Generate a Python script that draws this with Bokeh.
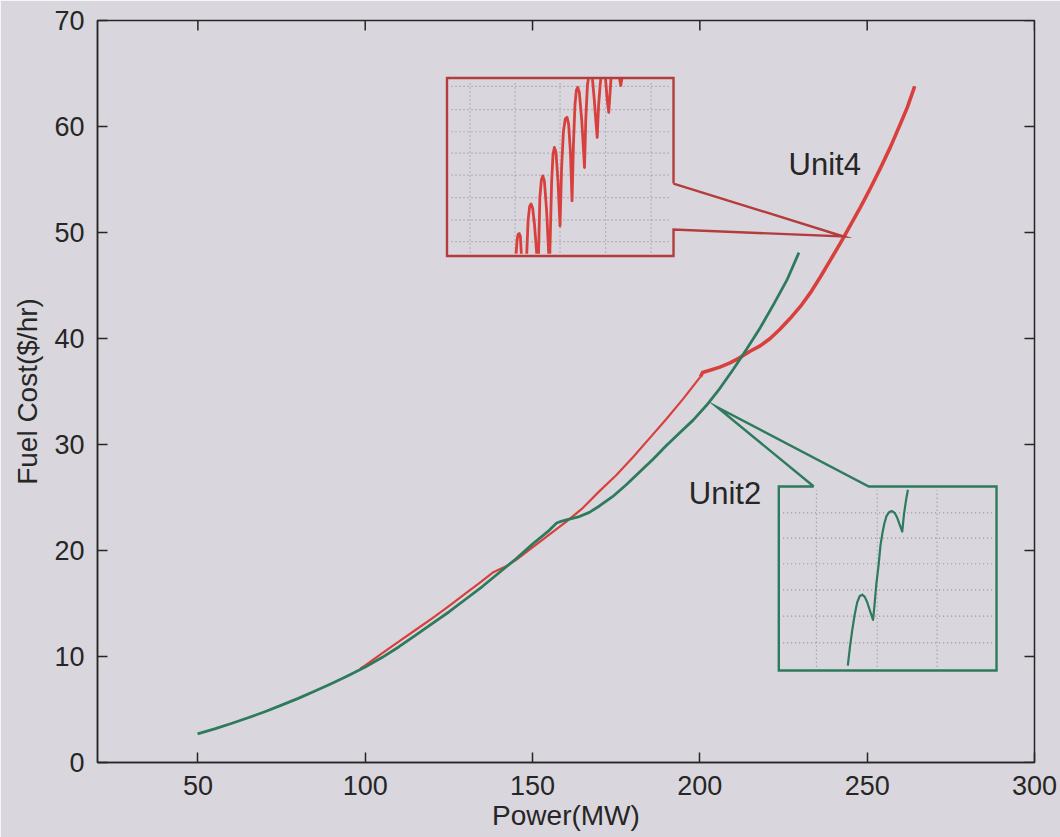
import math
from bokeh.plotting import figure
from bokeh.models import FixedTicker, Range1d
from bokeh.core.properties import value
from bokeh.embed import file_html
from bokeh.resources import INLINE

# ---------------- data ----------------
X_TICKS = [50, 100, 150, 200, 250, 300]
Y_TICKS = [0, 10, 20, 30, 40, 50, 60, 70]

unit2_p = [49.9, 55, 60, 65, 70, 75, 80, 85, 90, 95, 100, 105, 110, 115, 120, 125, 130,
           135, 140, 145, 150, 155, 157.2, 158.5, 161, 164, 167, 170, 174, 178, 182, 186,
           190, 194, 198, 202, 206, 210, 214, 218, 222, 226, 229.6]
unit2_c = [2.7, 3.17, 3.68, 4.22, 4.79, 5.41, 6.05, 6.74, 7.46, 8.21, 9.0, 9.9, 10.9,
           12.0, 13.1, 14.2, 15.4, 16.6, 17.9, 19.2, 20.6, 21.9, 22.6, 22.75, 22.95, 23.2,
           23.6, 24.2, 25.1, 26.2, 27.4, 28.6, 29.9, 31.1, 32.3, 33.7, 35.3, 37.1, 39.0,
           41.0, 43.2, 45.5, 48.1]

unit4_low_p = [98.5, 100, 105, 110, 115, 120, 125, 130, 134, 138.3, 140, 142, 145, 150,
               155, 160, 165, 170, 175, 180, 185, 190, 195, 200.2]
unit4_low_c = [8.85, 9.15, 10.3, 11.4, 12.5, 13.6, 14.75, 15.95, 16.9, 17.95, 18.2, 18.5,
               19.1, 20.3, 21.5, 22.7, 24.0, 25.6, 27.1, 28.8, 30.6, 32.4, 34.3, 36.4]
unit4_high_p = [200.2, 200.8, 203, 206, 209, 212, 215, 218, 221, 224, 227, 230, 233, 236,
                239, 242, 245, 248, 251, 254, 257, 260, 262, 264.2]
unit4_high_c = [36.4, 36.8, 37.0, 37.3, 37.7, 38.2, 38.8, 39.3, 40.0, 40.9, 41.9, 43.0,
                44.3, 45.8, 47.4, 49.0, 50.7, 52.4, 54.2, 56.1, 58.1, 60.3, 61.8, 63.8]

# inset (zoomed view) curves, in the inset's own normalised view units (0..1)
nan = float("nan")
inset4_u = [0.305, 0.310, 0.314, 0.319, 0.324, 0.328, nan,
            0.352, 0.358, 0.365, 0.371, 0.378, 0.386, 0.396, nan,
            0.404, 0.410, 0.417, 0.423, 0.430, 0.440, 0.449, nan,
            0.454, 0.462, 0.468, 0.474, 0.481, 0.490, 0.499, 0.506, 0.514, 0.522, 0.530,
            0.537, 0.545, 0.552, 0.558, 0.565, 0.571, 0.577, 0.584, 0.595, 0.607, 0.613,
            0.620, 0.624, nan,
            0.642, 0.650, 0.657, 0.663, 0.669, 0.676, 0.679, nan,
            0.700, 0.707, 0.714, 0.719, 0.724, nan,
            0.762, 0.767, 0.772]
inset4_v = [0.013, 0.095, 0.122, 0.126, 0.110, 0.013, nan,
            0.013, 0.200, 0.280, 0.293, 0.270, 0.180, 0.013, nan,
            0.013, 0.330, 0.430, 0.450, 0.420, 0.250, 0.013, nan,
            0.013, 0.420, 0.570, 0.610, 0.585, 0.420, 0.169, 0.500, 0.700, 0.770, 0.779,
            0.740, 0.580, 0.310, 0.620, 0.850, 0.930, 0.947, 0.920, 0.760, 0.497, 0.780,
            0.960, 0.995, nan,
            0.995, 0.880, 0.760, 0.666, 0.840, 0.960, 0.995, nan,
            0.995, 0.880, 0.807, 0.900, 0.995, nan,
            0.995, 0.957, 0.995]
inset4_grid_u = [0.102, 0.300, 0.499, 0.700, 0.901]
inset4_grid_v = [0.953, 0.822, 0.698, 0.578, 0.454, 0.328, 0.203, 0.081]

inset2_u = [0.317, 0.327, 0.337, 0.348, 0.360, 0.372, 0.383, 0.395, 0.406, 0.420, 0.433,
            0.440, 0.448, 0.459, 0.467, 0.475, 0.485, 0.495, 0.508, 0.521, 0.533, 0.544,
            0.556, 0.567, 0.575, 0.585, 0.593]
inset2_v = [0.027, 0.130, 0.217, 0.300, 0.370, 0.405, 0.412, 0.400, 0.371, 0.320, 0.275,
            0.360, 0.470, 0.580, 0.680, 0.740, 0.800, 0.840, 0.862, 0.866, 0.855, 0.830,
            0.790, 0.755, 0.850, 0.930, 0.982]
inset2_grid_u = [0.173, 0.452, 0.727]
inset2_grid_v = [0.857, 0.719, 0.580, 0.438, 0.295, 0.150]

# callout outlines (data coordinates of main axes)
call4_x = [192.13, 192.13, 124.44, 124.44, 192.13, 192.13, 242.93, 192.13]
call4_y = [54.62, 64.58, 64.58, 47.78, 47.78, 50.28, 49.62, 54.62]
box4 = (124.44, 192.13, 47.78, 64.58)

call2_x = [234.05, 223.59, 223.59, 288.65, 288.65, 250.49, 205.18, 234.05]
call2_y = [26.04, 26.04, 8.68, 8.68, 26.04, 26.04, 33.52, 26.04]
box2 = (223.59, 288.65, 8.68, 26.04)

labels_text = ["Unit4", "Unit2"]
labels_x = [226.5, 196.7]
labels_y = [56.4, 25.4]

# ---------------- styles ----------------
BG = "#d9d7dd"
INK = "#262626"
RED = "#d8403d"
RED_DARK = "#b43c3c"
GREEN = "#2d7a5c"
FONT = "Liberation Sans"
X_MIN, X_MAX, Y_MIN, Y_MAX = 20, 300, 0, 70

p = figure(width=1060, height=837, x_range=Range1d(X_MIN, X_MAX), y_range=Range1d(Y_MIN, Y_MAX),
           output_backend="svg", toolbar_location=None,
           min_border_left=97, min_border_right=26, min_border_top=20, min_border_bottom=75,
           background_fill_color=BG, border_fill_color=BG)
p.grid.visible = False
p.outline_line_color = INK
p.outline_line_width = 1.5

for ax, ticks in ((p.xaxis[0], X_TICKS), (p.yaxis[0], Y_TICKS)):
    ax.ticker = FixedTicker(ticks=ticks)
    ax.major_tick_in = 10
    ax.major_tick_out = 0
    ax.minor_tick_in = 0
    ax.minor_tick_out = 0
    ax.axis_line_color = INK
    ax.axis_line_width = 1.5
    ax.major_tick_line_color = INK
    ax.major_tick_line_width = 1.5
    ax.major_label_text_font = FONT
    ax.major_label_text_font_size = "27px"
    ax.major_label_text_color = INK
    ax.axis_label_text_font = FONT
    ax.axis_label_text_font_size = "28px"
    ax.axis_label_text_font_style = "normal"
    ax.axis_label_text_color = INK

p.xaxis.axis_label = "Power(MW)"
p.yaxis.axis_label = "Fuel Cost($/hr)"
p.xaxis.major_label_standoff = 13
p.xaxis.axis_label_standoff = 2
p.yaxis.major_label_standoff = 13
p.yaxis.axis_label_standoff = 8

# inward ticks on the top and right frame edges
p.ray(x=X_TICKS, y=[Y_MAX] * len(X_TICKS), length=10, length_units="screen",
      angle=-math.pi / 2, line_color=INK, line_width=1.5)
p.ray(x=[X_MAX] * len(Y_TICKS), y=Y_TICKS, length=10, length_units="screen",
      angle=math.pi, line_color=INK, line_width=1.5)

# main curves
p.line(unit4_low_p, unit4_low_c, line_color=RED, line_width=2.2, line_join="round")
p.line(unit4_high_p, unit4_high_c, line_color=RED, line_width=3.6, line_join="round")
p.line(unit2_p, unit2_c, line_color=GREEN, line_width=2.8, line_join="round")

def to_box(box, us, vs):
    x0, x1, y0, y1 = box
    xs = [x0 + u * (x1 - x0) if u == u else nan for u in us]
    ys = [y0 + v * (y1 - y0) if v == v else nan for v in vs]
    return xs, ys

def inset_grid(box, gu, gv):
    for u in gu:
        xs, ys = to_box(box, [u, u], [0.02, 0.98])
        p.line(xs, ys, line_color="#909096", line_width=1.2, line_dash="1 3")
    for v in gv:
        xs, ys = to_box(box, [0.02, 0.98], [v, v])
        p.line(xs, ys, line_color="#909096", line_width=1.2, line_dash="1 3")

inset_grid(box4, inset4_grid_u, inset4_grid_v)
inset_grid(box2, inset2_grid_u, inset2_grid_v)

xs, ys = to_box(box4, inset4_u, inset4_v)
p.line(xs, ys, line_color=RED, line_width=2.8, line_join="round")
xs, ys = to_box(box2, inset2_u, inset2_v)
p.line(xs, ys, line_color=GREEN, line_width=2.2, line_join="round")

p.line(call4_x, call4_y, line_color=RED_DARK, line_width=2.4, line_join="miter")
p.line(call2_x, call2_y, line_color=GREEN, line_width=2.4, line_join="miter")

p.text(x=labels_x, y=labels_y, text=labels_text, text_font=value(FONT),
       text_font_size="31px", text_color=INK, text_align="left", text_baseline="alphabetic")

open("out.html", "w").write(file_html(p, INLINE))
